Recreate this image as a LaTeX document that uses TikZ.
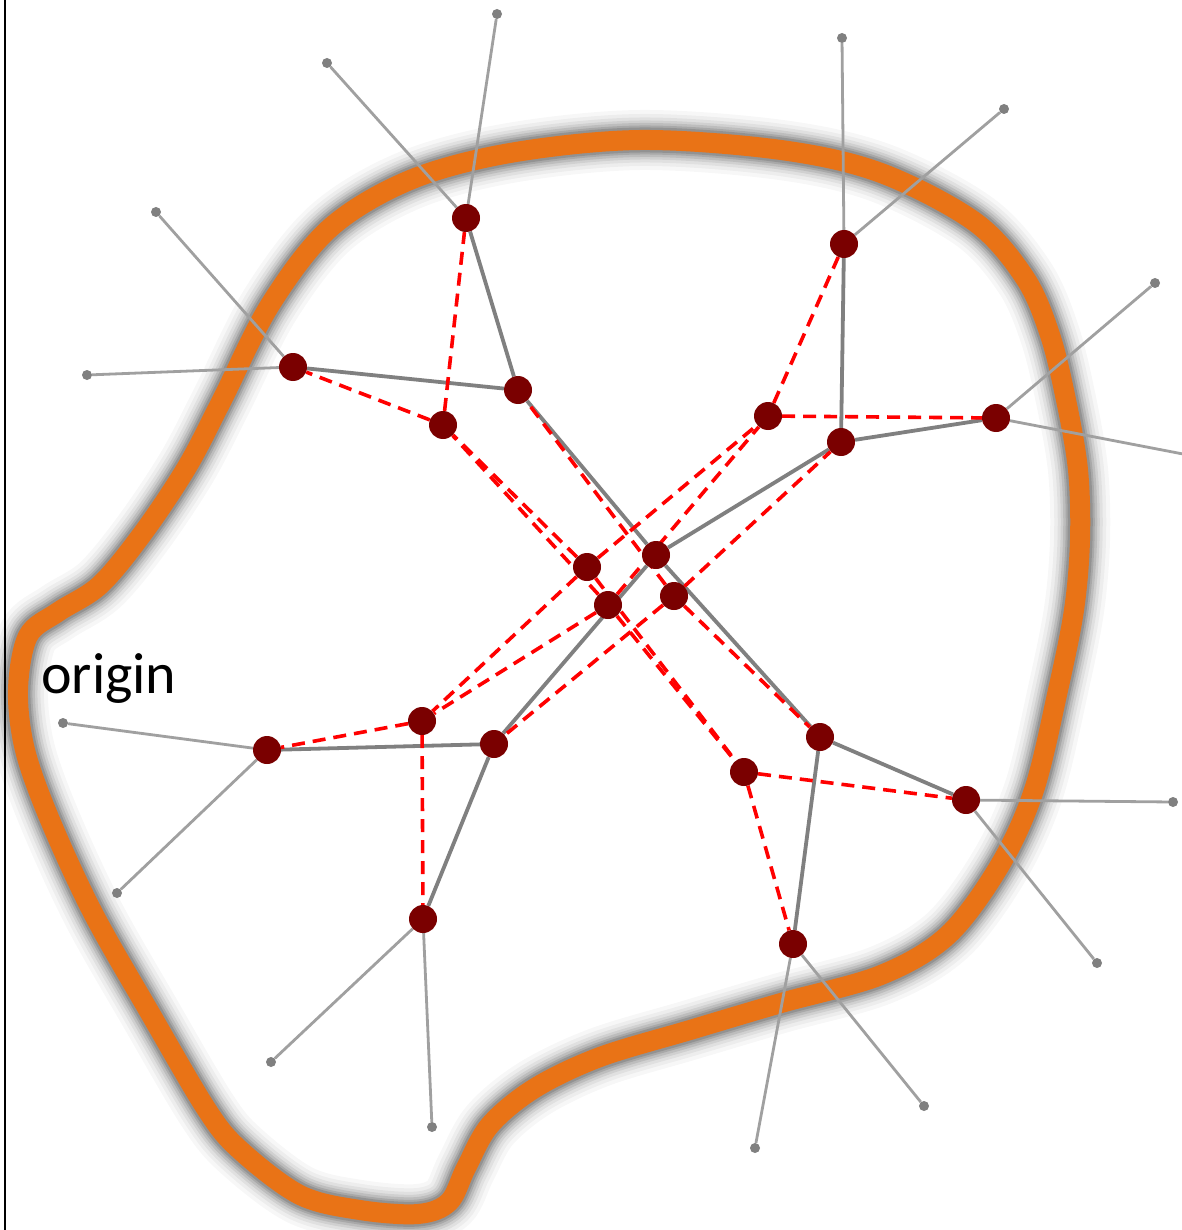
\documentclass[tikz,border=0pt]{standalone}
\usepackage{fontspec}
\newfontfamily\labelfont{Carlito}
\definecolor{maroonnode}{RGB}{122,0,0}
\definecolor{bandorange}{RGB}{233,115,22}
\definecolor{treegray}{RGB}{128,128,128}
\definecolor{leafgray}{RGB}{160,160,160}
\definecolor{dotgray}{RGB}{128,128,128}
\definecolor{dashred}{RGB}{255,0,0}
\pgfdeclarelayer{bandlayer}
\pgfdeclarelayer{edgelayer}
\pgfsetlayers{bandlayer,edgelayer,main}
\begin{document}
\begin{tikzpicture}[x=1pt,y=-1pt,
  bignode/.style={circle,fill=maroonnode,inner sep=0pt,minimum size=28pt},
  leafdot/.style={circle,fill=dotgray,inner sep=0pt,minimum size=10pt},
  treeedge/.style={draw=treegray,line width=3.8pt},
  leafedge/.style={draw=leafgray,line width=2.8pt},
  redlink/.style={draw=dashred,line width=3.6pt,dash pattern=on 13pt off 8pt},
  band/.style={draw=bandorange,line width=20pt,line join=round,
    preaction={draw=black,opacity=0.03,line width=60pt},
    preaction={draw=black,opacity=0.04,line width=52pt},
    preaction={draw=black,opacity=0.05,line width=45pt},
    preaction={draw=black,opacity=0.07,line width=39pt},
    preaction={draw=black,opacity=0.09,line width=34pt},
    preaction={draw=black,opacity=0.11,line width=29pt},
    preaction={draw=black,opacity=0.13,line width=25pt}}
]
\useasboundingbox (0,0) rectangle (1181,1230);

% orange boundary
\begin{pgfonlayer}{bandlayer}
\fill[white] (0,0) rectangle (1181,1230);
\draw[band] plot[smooth cycle, tension=0.55] coordinates {
 (640,140) (781,150) (881,173) (975,222) (1025,278) (1050,335) (1066,400)
 (1078,470) (1080,540) (1074,610) (1058,690) (1034,790) (1000,865) (948,935)
 (881,975) (781,1003) (690,1030) (600,1057) (535,1088) (490,1125) (466,1168)
 (449,1202) (418,1214) (360,1210) (300,1195) (240,1150) (207,1110) (150,1013)
 (93,913) (50,820) (25,750) (18,690) (28,636) (58,612) (100,585) (143,533)
 (187,467) (222,400) (270,305) (330,228) (410,180) (510,153)};
\end{pgfonlayer}

% left border
\coordinate (bordertop) at (5,0);
\coordinate (borderbottom) at (5,1230);
\draw[line width=2pt] (bordertop) -- (borderbottom);

% main tree nodes
\node[bignode] (C)  at (656,555) {};
\node[bignode] (A1) at (518,390) {};
\node[bignode] (A2) at (466,218) {};
\node[bignode] (A3) at (293,367) {};
\node[bignode] (B1) at (841,442) {};
\node[bignode] (B2) at (844,244) {};
\node[bignode] (B3) at (996,418) {};
\node[bignode] (D1) at (494,744) {};
\node[bignode] (D2) at (267,750) {};
\node[bignode] (D3) at (423,919) {};
\node[bignode] (E1) at (820,737) {};
\node[bignode] (E2) at (966,800) {};
\node[bignode] (E3) at (793,944) {};
% red tree nodes
\node[bignode] (P1) at (443,425) {};
\node[bignode] (P2) at (768,416) {};
\node[bignode] (P3) at (422,721) {};
\node[bignode] (P4) at (744,772) {};
\node[bignode] (M1) at (587,567) {};
\node[bignode] (M2) at (608,605) {};
\node[bignode] (M3) at (674,596) {};

% leaf dots
\node[leafdot] (A2a) at (497,14) {};
\node[leafdot] (A2b) at (327,63) {};
\node[leafdot] (A3a) at (156,212) {};
\node[leafdot] (A3b) at (87,375) {};
\node[leafdot] (B2a) at (842,38) {};
\node[leafdot] (B2b) at (1004,109) {};
\node[leafdot] (B3a) at (1155,283) {};
\coordinate (B3b) at (1183,454);
\node[leafdot] (D2a) at (63,723) {};
\node[leafdot] (D2b) at (117,893) {};
\node[leafdot] (D3a) at (271,1062) {};
\node[leafdot] (D3b) at (432,1127) {};
\node[leafdot] (E2a) at (1173,802) {};
\node[leafdot] (E2b) at (1097,963) {};
\node[leafdot] (E3a) at (755,1148) {};
\node[leafdot] (E3b) at (924,1106) {};

\begin{pgfonlayer}{edgelayer}
% leaf edges
\draw[leafedge] (A2) -- (A2a);
\draw[leafedge] (A2) -- (A2b);
\draw[leafedge] (A3) -- (A3a);
\draw[leafedge] (A3) -- (A3b);
\draw[leafedge] (B2) -- (B2a);
\draw[leafedge] (B2) -- (B2b);
\draw[leafedge] (B3) -- (B3a);
\draw[leafedge] (B3) -- (B3b);
\draw[leafedge] (D2) -- (D2a);
\draw[leafedge] (D2) -- (D2b);
\draw[leafedge] (D3) -- (D3a);
\draw[leafedge] (D3) -- (D3b);
\draw[leafedge] (E2) -- (E2a);
\draw[leafedge] (E2) -- (E2b);
\draw[leafedge] (E3) -- (E3a);
\draw[leafedge] (E3) -- (E3b);
% gray tree
\draw[treeedge] (C) -- (A1);
\draw[treeedge] (A1) -- (A2);
\draw[treeedge] (A1) -- (A3);
\draw[treeedge] (C) -- (B1);
\draw[treeedge] (B1) -- (B2);
\draw[treeedge] (B1) -- (B3);
\draw[treeedge] (C) -- (D1);
\draw[treeedge] (D1) -- (D2);
\draw[treeedge] (D1) -- (D3);
\draw[treeedge] (C) -- (E1);
\draw[treeedge] (E1) -- (E2);
\draw[treeedge] (E1) -- (E3);
% red dashed links
\draw[redlink] (P1) -- (A2);
\draw[redlink] (P1) -- (A3);
\draw[redlink] (P2) -- (B2);
\draw[redlink] (P2) -- (B3);
\draw[redlink] (P3) -- (D2);
\draw[redlink] (P3) -- (D3);
\draw[redlink] (P4) -- (E2);
\draw[redlink] (P4) -- (E3);
\draw[redlink] (M1) -- (P1);
\draw[redlink] (M1) -- (P2);
\draw[redlink] (M1) -- (P3);
\draw[redlink] (M1) -- (P4);
\draw[redlink] (M2) -- (P1);
\draw[redlink] (M2) -- (P2);
\draw[redlink] (M2) -- (P3);
\draw[redlink] (M2) -- (P4);
\draw[redlink] (M3) -- (A1);
\draw[redlink] (M3) -- (B1);
\draw[redlink] (M3) -- (D1);
\draw[redlink] (M3) -- (E1);
\end{pgfonlayer}

% label
\node[font=\labelfont\fontsize{58}{60}\selectfont,anchor=base west,inner sep=0pt] (originlabel) at (41,693) {origin};
\end{tikzpicture}
\end{document}
